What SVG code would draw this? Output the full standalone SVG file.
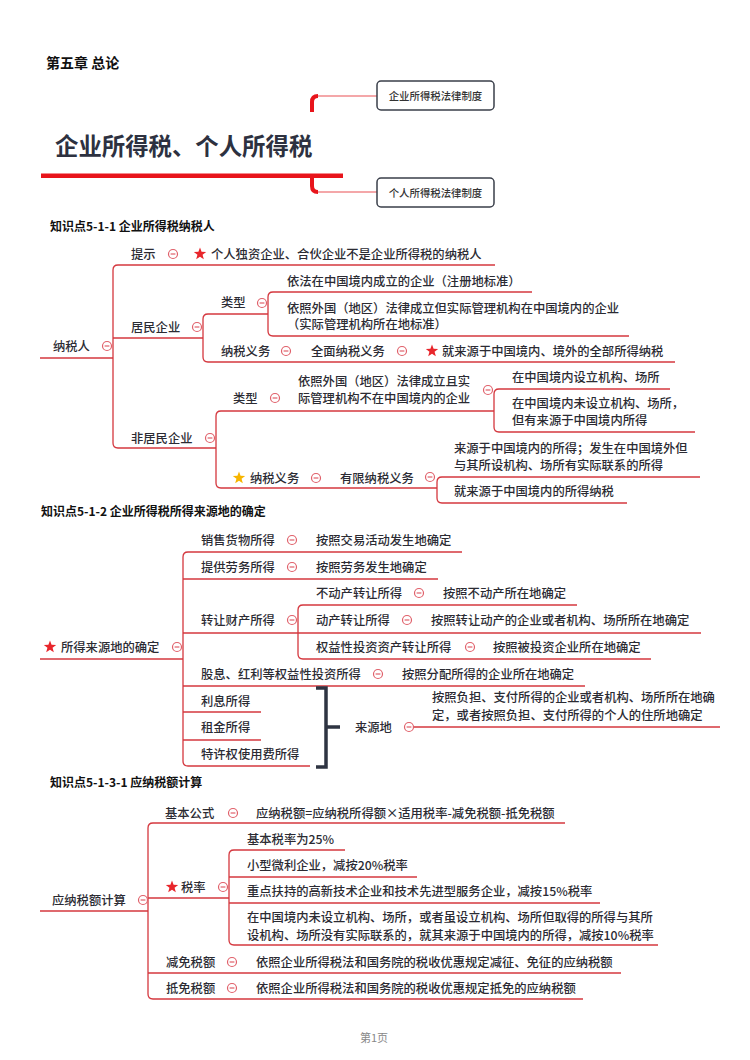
<svg xmlns="http://www.w3.org/2000/svg" width="750" height="1060" viewBox="0 0 750 1060">
<style>
.t{font-family:"Noto Sans CJK SC","Noto Sans",sans-serif;font-size:12.3px;font-weight:500;fill:#2b2b33}
.hd{font-family:"Noto Sans CJK SC","Noto Sans",sans-serif;font-size:12px;font-weight:bold;fill:#111}
.bx{font-family:"Noto Sans CJK SC","Noto Sans",sans-serif;font-size:10.4px;font-weight:500;fill:#333}
.ln{fill:none;stroke:#d4373e;stroke-width:1.3}
.rs{fill:#e8262c}
.ys{fill:#f7b500}
</style>
<defs>
<g id="mn"><circle cx="0" cy="0" r="4.5" fill="#fff" stroke="#e0606a" stroke-width="1.2"/><line x1="-2.4" y1="0" x2="2.4" y2="0" stroke="#e0606a" stroke-width="1.2"/></g>
<path id="st" d="M0,-6.5 L1.59,-2.18 L6.18,-2.01 L2.57,0.83 L3.82,5.26 L0,2.7 L-3.82,5.26 L-2.57,0.83 L-6.18,-2.01 L-1.59,-2.18 Z"/>
</defs>
<rect width="750" height="1060" fill="#fff"/>

<!-- header -->
<g id="chapter"><text x="46" y="68" font-family="Noto Sans CJK SC,sans-serif" font-size="14" font-weight="bold" fill="#111">第五章 总论</text></g>
<g id="title"><text x="55" y="155" font-family="Noto Sans CJK SC,sans-serif" font-size="23.4" font-weight="bold" fill="#2d3140">企业所得税、个人所得税</text>
<path d="M41,175.7 H343" fill="none" stroke="#e8141b" stroke-width="4.5"/></g>
<g id="header-connectors">
<path d="M312,112 V102 Q312,96 318,96" fill="none" stroke="#e8141b" stroke-width="4"/>
<path d="M318,96 H377" fill="none" stroke="#f08a8c" stroke-width="1.5"/>
<path d="M312,177 V186 Q312,192 318,192" fill="none" stroke="#e8141b" stroke-width="4"/>
<path d="M318,192 H377" fill="none" stroke="#f08a8c" stroke-width="1.5"/>
</g>
<g id="box1"><rect x="377" y="81" width="117" height="29" rx="4" fill="#fff" stroke="#3a3f4a" stroke-width="1.5"/><text class="bx" x="435.5" y="99.7" text-anchor="middle">企业所得税法律制度</text></g>
<g id="box2"><rect x="377" y="178" width="117" height="29" rx="4" fill="#fff" stroke="#3a3f4a" stroke-width="1.5"/><text class="bx" x="435.5" y="196.7" text-anchor="middle">个人所得税法律制度</text></g>

<!-- section headers -->
<g id="h1"><text class="hd" x="50" y="231">知识点5-1-1 企业所得税纳税人</text></g>
<g id="h2"><text class="hd" x="41" y="516">知识点5-1-2 企业所得税所得来源地的确定</text></g>
<g id="h3"><text class="hd" x="50" y="787">知识点5-1-3-1 应纳税额计算</text></g>

<!-- connectors -->
<g id="connectors" class="ln">
<path d="M40,358 H113"/>
<path d="M118,265 Q113,265 113,270 V443 Q113,448 118,448"/>
<path d="M118,265 H495"/>
<path d="M113,338 H203"/>
<path d="M118,448 H216"/>
<path d="M208,314 Q203,314 203,319 V357 Q203,362 208,362"/>
<path d="M208,314 H268"/>
<path d="M273,292 Q268,292 268,297 V331 Q268,336 273,336"/>
<path d="M273,292 H532"/>
<path d="M273,336 H629"/>
<path d="M208,362 H675"/>
<path d="M221,411 Q216,411 216,416 V483 Q216,488 221,488"/>
<path d="M221,411 H494"/>
<path d="M499,389 Q494,389 494,394 V427 Q494,432 499,432"/>
<path d="M499,389 H670"/>
<path d="M499,432 H695"/>
<path d="M221,488 H437"/>
<path d="M442,477 Q437,477 437,482 V498 Q437,503 442,503"/>
<path d="M442,477 H700"/>
<path d="M442,503 H627"/>

<path d="M40,659 H183"/>
<path d="M188,552 Q183,552 183,557 V761 Q183,766 188,766"/>
<path d="M188,552 H462"/>
<path d="M183,579 H438"/>
<path d="M183,633 H298"/>
<path d="M183,686 H585"/>
<path d="M183,712 H261"/>
<path d="M183,740 H261"/>
<path d="M188,766 H310"/>
<path d="M303,605 Q298,605 298,610 V654 Q298,659 303,659"/>
<path d="M303,605 H577"/>
<path d="M298,633 H701"/>
<path d="M303,659 H651"/>
<path d="M414,727 H720"/>

<path d="M40,911 H148"/>
<path d="M153,823 Q148,823 148,828 V994 Q148,999 153,999"/>
<path d="M153,823 H565"/>
<path d="M148,898 H229"/>
<path d="M148,973 H621"/>
<path d="M153,999 H583"/>
<path d="M234,850 Q229,850 229,855 V940 Q229,945 234,945"/>
<path d="M234,850 H345"/>
<path d="M229,877 H417"/>
<path d="M229,903 H600"/>
<path d="M234,945 H658"/>
</g>
<g id="bracket"><path d="M316,688 H326 V767 H316 M326,727 H340" fill="none" stroke="#2e3442" stroke-width="3.5"/></g>

<!-- section 1 nodes -->
<g id="n-root1"><text class="t" x="53" y="350.5">纳税人</text><use href="#mn" x="107" y="346"/></g>
<g id="n-tip"><text class="t" x="131" y="258.5">提示</text><use href="#mn" x="173" y="254"/></g>
<g id="n-tip-text"><use href="#st" class="rs" x="200" y="254"/><text class="t" x="211" y="258.5">个人独资企业、合伙企业不是企业所得税的纳税人</text></g>
<g id="n-res"><text class="t" x="131" y="331.5">居民企业</text><use href="#mn" x="197" y="327"/></g>
<g id="n-res-type"><text class="t" x="221" y="306.5">类型</text><use href="#mn" x="262" y="303"/></g>
<g id="n-res-type1"><text class="t" x="287" y="285.5">依法在中国境内成立的企业（注册地标准）</text></g>
<g id="n-res-type2"><text class="t" x="287" y="312.5">依照外国（地区）法律成立但实际管理机构在中国境内的企业</text><text class="t" x="287" y="328.5">（实际管理机构所在地标准）</text></g>
<g id="n-res-duty"><text class="t" x="221" y="355.5">纳税义务</text><use href="#mn" x="286" y="351"/></g>
<g id="n-res-duty1"><text class="t" x="311" y="355.5">全面纳税义务</text><use href="#mn" x="402" y="351"/></g>
<g id="n-res-duty2"><use href="#st" class="rs" x="432" y="351"/><text class="t" x="442" y="355.5">就来源于中国境内、境外的全部所得纳税</text></g>
<g id="n-nonres"><text class="t" x="131" y="442.5">非居民企业</text><use href="#mn" x="210" y="438"/></g>
<g id="n-nonres-type"><text class="t" x="233" y="402.5">类型</text><use href="#mn" x="275" y="398"/></g>
<g id="n-nonres-type1"><text class="t" x="298" y="385.5">依照外国（地区）法律成立且实</text><text class="t" x="298" y="402.5">际管理机构不在中国境内的企业</text><use href="#mn" x="488" y="390"/></g>
<g id="n-nonres-a"><text class="t" x="512" y="381.5">在中国境内设立机构、场所</text></g>
<g id="n-nonres-b"><text class="t" x="512" y="407.5">在中国境内未设立机构、场所，</text><text class="t" x="512" y="424.5">但有来源于中国境内所得</text></g>
<g id="n-nonres-duty"><use href="#st" class="ys" x="239" y="478"/><text class="t" x="250" y="482.5">纳税义务</text><use href="#mn" x="316" y="478"/></g>
<g id="n-nonres-duty1"><text class="t" x="340" y="482.5">有限纳税义务</text><use href="#mn" x="430" y="477"/></g>
<g id="n-nonres-duty-a"><text class="t" x="454" y="452.5">来源于中国境内的所得；发生在中国境外但</text><text class="t" x="454" y="469.5">与其所设机构、场所有实际联系的所得</text></g>
<g id="n-nonres-duty-b"><text class="t" x="454" y="495.5">就来源于中国境内的所得纳税</text></g>

<!-- section 2 nodes -->
<g id="n-root2"><use href="#st" class="rs" x="50" y="647"/><text class="t" x="61" y="651.5">所得来源地的确定</text><use href="#mn" x="177" y="647"/></g>
<g id="n-sale"><text class="t" x="201" y="544.5">销售货物所得</text><use href="#mn" x="292" y="540"/><text class="t" x="316" y="544.5">按照交易活动发生地确定</text></g>
<g id="n-labor"><text class="t" x="201" y="571.5">提供劳务所得</text><use href="#mn" x="292" y="567"/><text class="t" x="316" y="571.5">按照劳务发生地确定</text></g>
<g id="n-transfer"><text class="t" x="201" y="624.5">转让财产所得</text><use href="#mn" x="292" y="620"/></g>
<g id="n-realty"><text class="t" x="316" y="597.5">不动产转让所得</text><use href="#mn" x="419" y="593"/><text class="t" x="443" y="597.5">按照不动产所在地确定</text></g>
<g id="n-movable"><text class="t" x="316" y="624.5">动产转让所得</text><use href="#mn" x="407" y="620"/><text class="t" x="431" y="624.5">按照转让动产的企业或者机构、场所所在地确定</text></g>
<g id="n-equity"><text class="t" x="316" y="651.5">权益性投资资产转让所得</text><use href="#mn" x="470" y="647"/><text class="t" x="493" y="651.5">按照被投资企业所在地确定</text></g>
<g id="n-dividend"><text class="t" x="201" y="678.5">股息、红利等权益性投资所得</text><use href="#mn" x="378" y="674"/><text class="t" x="402" y="678.5">按照分配所得的企业所在地确定</text></g>
<g id="n-interest"><text class="t" x="201" y="705.5">利息所得</text></g>
<g id="n-rent"><text class="t" x="201" y="731.5">租金所得</text></g>
<g id="n-royalty"><text class="t" x="201" y="758.5">特许权使用费所得</text></g>
<g id="n-source"><text class="t" x="355" y="731.5">来源地</text><use href="#mn" x="409" y="727"/></g>
<g id="n-source-text"><text class="t" x="432" y="701.5">按照负担、支付所得的企业或者机构、场所所在地确</text><text class="t" x="432" y="719.5">定，或者按照负担、支付所得的个人的住所地确定</text></g>

<!-- section 3 nodes -->
<g id="n-root3"><text class="t" x="52" y="904.5">应纳税额计算</text><use href="#mn" x="143" y="900"/></g>
<g id="n-formula"><text class="t" x="165" y="817.5">基本公式</text><use href="#mn" x="233" y="813"/><text class="t" x="256" y="817.5">应纳税额=应纳税所得额×适用税率-减免税额-抵免税额</text></g>
<g id="n-rate"><use href="#st" class="rs" x="172" y="887"/><text class="t" x="181" y="891.5">税率</text><use href="#mn" x="223" y="887"/></g>
<g id="n-rate1"><text class="t" x="247" y="843.5">基本税率为25%</text></g>
<g id="n-rate2"><text class="t" x="247" y="869.5">小型微利企业，减按20%税率</text></g>
<g id="n-rate3"><text class="t" x="247" y="895.5">重点扶持的高新技术企业和技术先进型服务企业，减按15%税率</text></g>
<g id="n-rate4"><text class="t" x="247" y="921.5">在中国境内未设立机构、场所，或者虽设立机构、场所但取得的所得与其所</text><text class="t" x="247" y="939.5">设机构、场所没有实际联系的，就其来源于中国境内的所得，减按10%税率</text></g>
<g id="n-reduce"><text class="t" x="166" y="966.5">减免税额</text><use href="#mn" x="232" y="962"/><text class="t" x="256" y="966.5">依照企业所得税法和国务院的税收优惠规定减征、免征的应纳税额</text></g>
<g id="n-credit"><text class="t" x="166" y="992.5">抵免税额</text><use href="#mn" x="232" y="988"/><text class="t" x="256" y="992.5">依照企业所得税法和国务院的税收优惠规定抵免的应纳税额</text></g>

<g id="footer"><text x="374" y="1042" text-anchor="middle" font-family="Noto Sans CJK SC,sans-serif" font-size="11" fill="#888">第1页</text></g>
</svg>
